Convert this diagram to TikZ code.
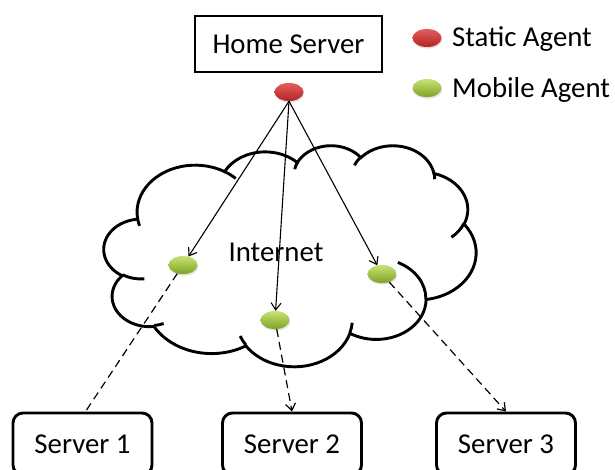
\documentclass[tikz,border=0pt]{standalone}
\usepackage{fontspec}
\setmainfont{Carlito}
\usetikzlibrary{arrows.meta,shapes.geometric,shadows}

% Convert an arc given by visual (ray) angles on an ellipse into the
% parametric angles that TikZ's arc operation expects.
\newcommand\cloudangles[4]{% x radius, y radius, start angle, sweep
  \pgfmathparse{atan2((#1)*sin(#3),(#2)*cos(#3))}\xdef\cloudts{\pgfmathresult}%
  \pgfmathparse{atan2((#1)*sin((#3)+(#4)),(#2)*cos((#3)+(#4)))}\xdef\cloudte{\pgfmathresult}%
  \pgfmathparse{mod(\cloudte-\cloudts+720,360)}\xdef\cloudtd{\pgfmathresult}%
}

\definecolor{agentred}{RGB}{228,92,92}
\definecolor{agentreddark}{RGB}{180,36,36}
\definecolor{agentgreen}{RGB}{200,226,118}
\definecolor{agentgreendark}{RGB}{126,164,36}

\tikzset{
  cloud arc/.code n args={4}{%
    \cloudangles{#1}{#2}{#3}{#4}%
    \tikzset{x radius=#1, y radius=#2, start angle=\cloudts, delta angle=\cloudtd}},
  label font/.style={font=\fontsize{28.8pt}{34pt}\selectfont},
  serverbox/.style={draw, line width=2.9pt, label font, inner sep=0pt,
    text height=18.5pt, text depth=0pt, minimum height=62pt, minimum width=139pt},
  homebox/.style={serverbox, rounded corners=0pt, minimum height=56pt, minimum width=187pt},
  agent/.style={ellipse, inner sep=0pt, minimum width=29pt, minimum height=18pt,
    drop shadow={opacity=0.25, shadow xshift=0.6pt, shadow yshift=-1.6pt}},
  static agent/.style={agent, top color=agentred, bottom color=agentreddark},
  mobile agent/.style={agent, top color=agentgreen, bottom color=agentgreendark},
  legendtext/.style={label font, anchor=base west, inner sep=0pt},
  dispatch/.style={line width=1.1pt, -{Straight Barb[length=7pt, width=10pt]}},
  migrate/.style={line width=1.2pt, dash pattern=on 8pt off 5pt},
}

\begin{document}
\begin{tikzpicture}[x=1pt, y=1pt]
\useasboundingbox (0,0) rectangle (615,-470);

% Internet cloud
\begin{scope}[shift={(104,-145)}, xscale=0.8611, yscale=-0.5116]
  \filldraw[fill=white, line width=2.9pt] (39.00,143.70)
    arc[cloud arc={67.53}{91.90}{-190.4875}{123.7805}]
    arc[cloud arc={53.33}{72.67}{-144.1024}{89.9452}]
    arc[cloud arc={43.65}{59.45}{-145.8079}{99.7230}]
    arc[cloud arc={48.57}{65.95}{-130.9861}{117.2417}]
    arc[cloud arc={53.33}{72.73}{-78.7089}{109.0269}]
    arc[cloud arc={67.75}{92.20}{-46.2673}{130.2690}]
    arc[cloud arc={57.85}{78.67}{0.6250}{114.0333}]
    arc[cloud arc={67.52}{92.15}{22.4516}{115.1726}]
    arc[cloud arc={77.20}{105.43}{66.2426}{75.7110}]
    arc[cloud arc={43.60}{59.18}{-274.9421}{146.7356}]
    arc[cloud arc={43.45}{59.45}{-246.8285}{152.5189}]
    -- cycle;
  \draw[line width=2.9pt]
    (46.93,261.77) arc[cloud arc={43.45}{59.45}{86.7420}{26.4295}]
    (69.28,348.99) arc[cloud arc={43.60}{59.18}{73.6105}{11.4475}]
    (164.78,390.90) arc[cloud arc={67.52}{92.15}{137.6242}{14.0811}]
    (288.27,347.51) arc[cloud arc={67.52}{92.15}{6.4533}{15.9984}]
    (341.29,229.54) arc[cloud arc={57.85}{78.67}{-70.2924}{70.9174}]
    (417.98,153.54) arc[cloud arc={53.33}{72.73}{30.3180}{27.7515}]
    (383.24,54.26) arc[cloud arc={48.57}{65.95}{-13.7443}{14.8589}]
    (290.78,39.52) arc[cloud arc={48.57}{65.95}{-149.1815}{18.1954}]
    (221.41,47.20) arc[cloud arc={43.65}{59.45}{-163.4943}{17.6864}]
    (140.00,51.92) arc[cloud arc={67.53}{91.90}{-66.7070}{12.3194}]
    (41.27,157.89) arc[cloud arc={67.53}{91.90}{157.6544}{11.8582}];
\end{scope}

\node[label font, anchor=base, inner sep=0pt] (net) at (276,-261.7) {Internet};

% Servers
\node[homebox] (home) at (288.5,-44) {Home Server};
\node[serverbox, rounded corners=10pt] (s1) at (82.5,-444) {Server 1};
\node[serverbox, rounded corners=10pt] (s2) at (292,-444) {Server 2};
\node[serverbox, rounded corners=10pt] (s3) at (506,-444) {Server 3};

% Agents
\node[static agent] (ha) at (289,-92) {};
\node[mobile agent] (g1) at (183,-265) {};
\node[mobile agent] (g2) at (275,-320) {};
\node[mobile agent] (g3) at (382,-274) {};

% Dispatch from the home server and migration to the servers
\draw[dispatch] (ha.south) -- (g1);
\draw[dispatch] (ha.south) -- (g2);
\draw[dispatch] (ha.south) -- (g3);
\draw[migrate] (g1) -- ([xshift=3pt]s1.north);
\draw[migrate, -{Straight Barb[length=7pt, width=10pt]}] (g2) -- (s2.north);
\draw[migrate, -{Straight Barb[length=7pt, width=10pt]}] (g3) -- (s3.north);

% Legend
\node[static agent] (lr) at (427,-38) {};
\node[mobile agent] (lg) at (427,-88) {};
\node[legendtext] (lrt) at (452,-46.7) {Static Agent};
\node[legendtext] (lgt) at (452,-97.3) {Mobile Agent};
\end{tikzpicture}
\end{document}
